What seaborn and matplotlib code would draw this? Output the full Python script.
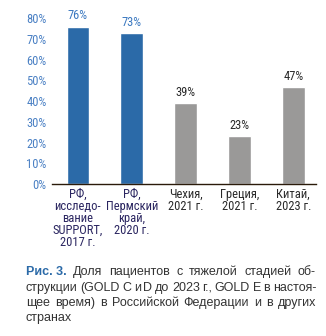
import matplotlib
matplotlib.use("Agg")
import matplotlib.pyplot as plt
import seaborn as sns
import pandas as pd

categories = ["РФ,\nисследо-\nвание\nSUPPORT,\n2017 г.", "РФ,\nПермский\nкрай,\n2020 г.",
              "Чехия,\n2021 г.", "Греция,\n2021 г.", "Китай,\n2023 г."]
values = [76, 73, 39, 23, 47]
bar_colors = ["#2b6aa8", "#2b6aa8", "#9a9998", "#9a9998", "#9a9998"]
label_colors = ["#3a78c0", "#3a78c0", "#2a2a2a", "#2a2a2a", "#2a2a2a"]
xlabel_colors = ["#2a2560", "#2a2560", "#2a2a2a", "#2a2a2a", "#2a2a2a"]
yticks = [0, 10, 20, 30, 40, 50, 60, 70, 80]
caption_head = "Рис. 3."
caption_lines = ["Доля пациентов с тяжелой стадией об-",
                 "струкции (GOLD C и D до 2023 г., GOLD E в настоя-",
                 "щее время) в Российской Федерации и в других",
                 "странах"]

sns.set_theme(style="white")
plt.rcParams['font.family'] = ['Roboto Condensed', 'DejaVu Sans']

df = pd.DataFrame({"cat": categories, "val": values})

fig = plt.figure(figsize=(3.26, 3.36), dpi=100)
ax = fig.add_axes([0.1595, 0.452, 0.8095, 0.4935])
sns.barplot(data=df, x="cat", y="val", hue="cat", palette=bar_colors, legend=False,
            width=0.42, ax=ax, saturation=1)
ax.set_ylim(0, 80)
ax.set_xlim(-0.48, 4.42)
ax.set_yticks(yticks)
ax.set_yticklabels([f"{v}%" for v in yticks], color="#4a80c4", fontsize=9)
ax.tick_params(axis="y", length=0, pad=4)
ax.tick_params(axis="x", length=0, pad=2.5)
ax.set_xticks(range(len(categories)))
ax.set_xticklabels(categories, fontsize=9, linespacing=0.9)
for t, c in zip(ax.get_xticklabels(), xlabel_colors):
    t.set_color(c)
ax.set_xlabel("")
ax.set_ylabel("")
for s in ["top", "right", "left"]:
    ax.spines[s].set_visible(False)
ax.spines["bottom"].set_color("#2a1a0a")
ax.spines["bottom"].set_linewidth(1.0)

for i, (v, c) in enumerate(zip(values, label_colors)):
    ax.text(i, v + 2.0, f"{v}%", ha="center", va="bottom", fontsize=9, color=c, clip_on=False)

# caption, justified
W = 326.0
x_left, x_right = 26 / W, 316 / W
ys = [272, 288, 303, 318]
fig.canvas.draw()
renderer = fig.canvas.get_renderer()

def width_px(s, fs, bold=False):
    t = fig.text(0, 0, s, fontsize=fs, family="Liberation Sans",
                 fontweight="bold" if bold else "normal")
    w = t.get_window_extent(renderer=renderer).width
    t.remove()
    return w

# fit font size so that the tightest line fills the width with ~2.5px gaps
ref_fs = 9.0
ref_words = caption_lines[1].split(" ")
nat = sum(width_px(w, ref_fs) for w in ref_words) + 2.5 * (len(ref_words) - 1)
fs = ref_fs * (290.0 - 2.5 * (len(ref_words) - 1)) / (nat - 2.5 * (len(ref_words) - 1))
fs = min(fs, 9.5)

for li, (ln, y) in enumerate(zip(caption_lines, ys)):
    yf = 1 - y / 336
    words = ln.split(" ")
    specs = []
    if li == 0:
        specs.append((caption_head, True))
    specs += [(w, False) for w in words]
    widths = [width_px(s, fs, b) / W for s, b in specs]
    if li < len(caption_lines) - 1:
        gap = (x_right - x_left - sum(widths)) / (len(specs) - 1)
        gap = max(gap, 2.0 / W)
    else:
        gap = 3.0 / W
    x = x_left
    for (s, b), wd in zip(specs, widths):
        fig.text(x, yf, s, fontsize=fs, family="Liberation Sans",
                 fontweight="bold" if b else "normal",
                 color="#2b6aa8" if b else "#333333", va="center")
        x += wd + gap

fig.savefig("out.png", dpi=100)
